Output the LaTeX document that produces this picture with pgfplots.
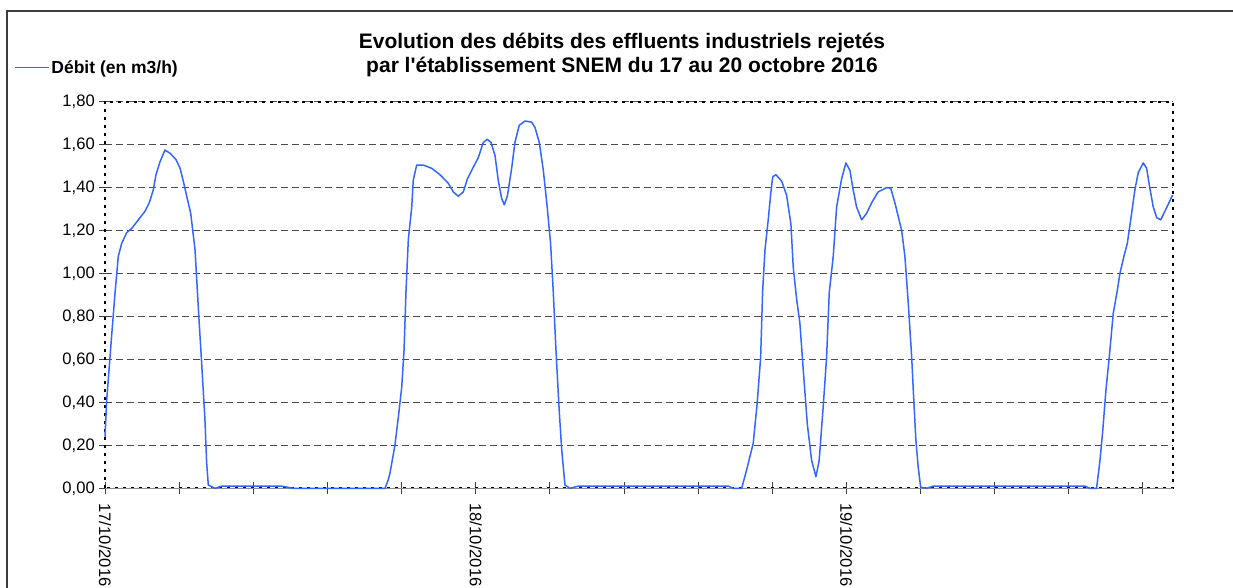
\documentclass[border=0pt]{standalone}
\usepackage{pgfplots}
\pgfplotsset{compat=1.18}
\usetikzlibrary{calc}
\usepackage{fontspec}
\setmainfont{Liberation Sans}
\definecolor{serieblue}{RGB}{51,102,255}
\definecolor{framegray}{RGB}{60,60,60}
\begin{document}
\begin{tikzpicture}[x=1pt,y=1pt]
\begin{axis}[
  name=ax,
  scale only axis, width=1067.7pt, height=386.6pt,
  xmin=0, xmax=69.13, ymin=0, ymax=1.8,
  xtick={0,4.8,9.6,14.4,19.2,24,28.8,33.6,38.4,43.2,48,52.8,57.6,62.4,67.2},
  xticklabels={17/10/2016,,,,,18/10/2016,,,,,19/10/2016,,,,},
  ytick={0,0.2,...,1.8},
  xtick pos=left, ytick pos=left,
  tick align=center,
  major tick length=12pt,
  tick style={black!75, line width=0.9pt},
  ymajorgrids,
  major grid style={black!70, line width=1pt, dash pattern=on 7pt off 4pt},
  extra y ticks={0},
  extra y tick labels={},
  extra tick style={grid=major, major grid style={solid, black!45, line width=1.3pt}, major tick length=0pt},
  axis line style={black, line width=2pt, dash pattern=on 3pt off 5pt},
  /pgf/number format/assume math mode=true,
  ticklabel style={font=\fontsize{16.6}{19}\selectfont},
  xticklabel style={rotate=-90, anchor=west, inner sep=0pt, xshift=9pt},
  yticklabel style={inner sep=0pt, xshift=-4pt, /pgf/number format/.cd, fixed, fixed zerofill, precision=2, use comma},
  legend style={draw=none, fill=none, at={(-0.0852,1.088)}, anchor=west,
    font=\fontsize{17.5}{20}\selectfont\bfseries, inner sep=0pt,
    nodes={inner sep=2pt}},
  legend image code/.code={\draw[serieblue, line width=1.2pt] (0pt,0pt) -- (34pt,0pt);},
  clip=false,
]
\coordinate (O) at (rel axis cs:0,0);
\addplot[serieblue, line width=1.5pt, line join=round] table {
x y
0 0.24
0.11 0.41
0.43 0.71
0.65 0.91
0.86 1.08
1.08 1.14
1.40 1.19
1.73 1.21
2.16 1.25
2.59 1.29
2.87 1.33
3.13 1.39
3.30 1.46
3.56 1.52
3.88 1.575
4.21 1.56
4.60 1.53
4.86 1.49
5.07 1.43
5.29 1.36
5.55 1.28
5.83 1.11
5.98 0.92
6.10 0.77
6.26 0.58
6.47 0.32
6.58 0.12
6.69 0.015
7.12 0
7.55 0.01
11.44 0.01
12.19 0
18.13 0
18.34 0.04
18.45 0.07
18.77 0.20
18.99 0.33
19.21 0.47
19.36 0.64
19.49 0.92
19.64 1.16
19.86 1.31
19.96 1.435
20.18 1.505
20.61 1.505
21.15 1.49
21.69 1.46
22.23 1.42
22.55 1.38
22.87 1.36
23.20 1.38
23.46 1.44
23.81 1.49
24.17 1.54
24.49 1.61
24.75 1.625
24.99 1.61
25.25 1.55
25.46 1.435
25.68 1.35
25.85 1.32
26.05 1.36
26.33 1.49
26.54 1.61
26.82 1.69
27.19 1.71
27.62 1.705
27.84 1.68
28.12 1.61
28.38 1.48
28.63 1.31
28.85 1.14
29.02 0.92
29.20 0.64
29.41 0.36
29.57 0.18
29.78 0.015
30.10 0
30.64 0.01
40.35 0.01
40.68 0
41.22 0
41.54 0.085
41.97 0.21
42.23 0.40
42.45 0.61
42.58 0.92
42.73 1.11
42.94 1.25
43.10 1.37
43.23 1.45
43.44 1.46
43.81 1.43
44.13 1.365
44.41 1.23
44.56 1.03
44.78 0.88
44.99 0.77
45.21 0.55
45.47 0.30
45.75 0.13
46.03 0.054
46.24 0.13
46.50 0.38
46.72 0.61
46.89 0.91
47.15 1.08
47.37 1.31
47.69 1.44
47.97 1.515
48.23 1.48
48.44 1.39
48.66 1.31
48.99 1.25
49.31 1.28
49.64 1.33
50.06 1.38
50.61 1.40
50.87 1.397
51.14 1.33
51.58 1.20
51.79 1.08
52.01 0.86
52.23 0.61
52.33 0.46
52.50 0.225
52.65 0.10
52.81 0.005
53.20 0
53.62 0.01
63.45 0.01
63.77 0
64.20 0
64.42 0.13
64.59 0.26
64.81 0.46
65.02 0.61
65.28 0.815
65.54 0.92
65.71 1.00
65.97 1.08
66.19 1.14
66.41 1.25
66.68 1.39
66.90 1.47
67.22 1.515
67.44 1.49
67.65 1.397
67.87 1.31
68.09 1.26
68.35 1.25
68.69 1.30
69.12 1.365
};
\addlegendentry{Débit (en m3/h)}
\end{axis}
\draw[framegray, line width=1.4pt] ($(O)+(-98,-130)$) rectangle ($(O)+(1160,477.3)$);
\node[anchor=base, font=\fontsize{21}{24}\selectfont\bfseries] at ($(O)+(517,440)$) {Evolution des débits des effluents industriels rejetés};
\node[anchor=base, font=\fontsize{21}{24}\selectfont\bfseries] at ($(O)+(517,415.9)$) {par l\textquotesingle établissement SNEM du 17 au 20 octobre 2016};
\pgfresetboundingbox
\path[use as bounding box] ($(O)+(-105,-98.7)$) rectangle ($(O)+(1128,488.3)$);
\end{tikzpicture}
\end{document}
